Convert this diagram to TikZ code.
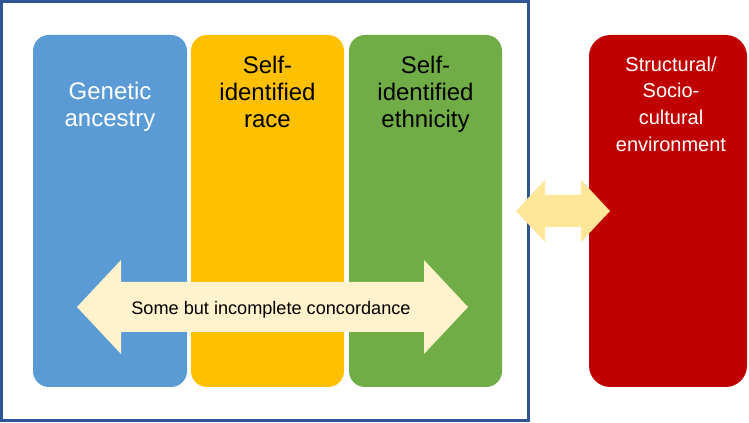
\documentclass[tikz,border=0pt]{standalone}
\usepackage{fontspec}
\setmainfont{Liberation Sans}
\definecolor{cblue}{HTML}{5B9BD5}
\definecolor{cyellow}{HTML}{FFC000}
\definecolor{cgreen}{HTML}{70AD47}
\definecolor{cred}{HTML}{C00000}
\definecolor{cframe}{HTML}{2F5597}
\definecolor{arrowpale}{HTML}{FFF2CC}
\definecolor{arrowgold}{HTML}{FFE699}
\begin{document}
\begin{tikzpicture}[x=0.75pt,y=-0.75pt,
  colbox/.style={rounded corners=12pt},
  bigtext/.style={align=center, inner sep=0pt, font=\fontsize{18}{20.25}\selectfont},
  redtext/.style={text=white, align=center, inner sep=0pt, font=\fontsize{15}{20}\selectfont},
  arrowtext/.style={text=black, inner sep=0pt, font=\fontsize{13.6}{16}\selectfont}]
\useasboundingbox (0,0) rectangle (749,423);
% outer frame
\draw[cframe, line width=2.25pt] (1.5,1.5) rectangle (528.5,420.5);
% column boxes
\fill[cblue, colbox] (33,35) rectangle (187,387);
\fill[cyellow, colbox] (191,35) rectangle (344,387);
\fill[cgreen, colbox] (349,35) rectangle (502,387);
\fill[cred, rounded corners=16pt] (589,35) rectangle (747,387);
% texts
\node[bigtext, text=white] (gen) at (110,107) {Genetic\\ancestry};
\node[bigtext, text=black] (race) at (267.5,92) {Self-\\identified\\race};
\node[bigtext, text=black] (eth) at (425.5,94) {Self-\\identified\\ethnicity};
\node[redtext] (env) at (671,104) {Structural/\\Socio-\\cultural\\environment};
% big double arrow
\fill[arrowpale] (77,307) -- (121,260) -- (121,282) -- (424,282) -- (424,260) -- (468,307)
  -- (424,354) -- (424,332) -- (121,332) -- (121,354) -- cycle;
\node[arrowtext, anchor=base] (conc) at (271,315) {Some but incomplete concordance};
% small double arrow
\fill[arrowgold] (516,211) -- (545,180) -- (545,195) -- (581,195) -- (581,180) -- (610,211)
  -- (581,242) -- (581,227) -- (545,227) -- (545,242) -- cycle;
\end{tikzpicture}
\end{document}
